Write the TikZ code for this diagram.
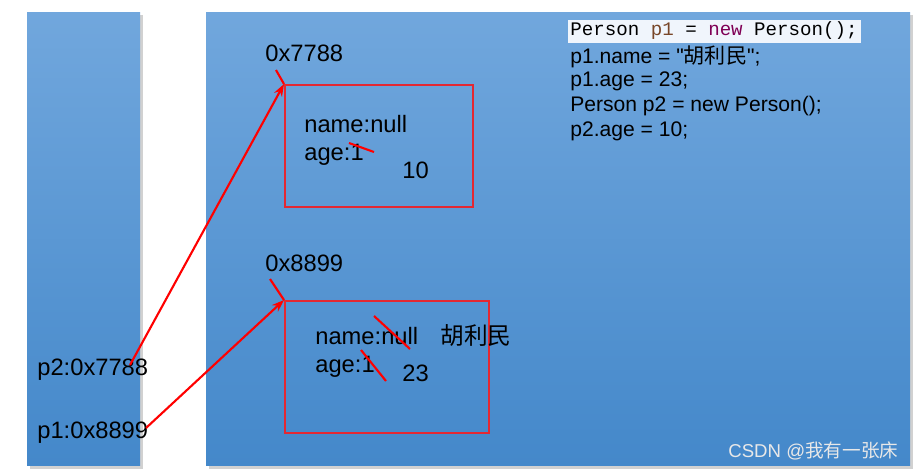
\documentclass[tikz,border=0pt]{standalone}
\usepackage{fontspec}
\setmainfont{Liberation Sans}[Ligatures=TeXOff]
\setmonofont{Liberation Mono}
\newfontfamily\cjk{Noto Sans CJK SC}
\usetikzlibrary{arrows.meta}
\definecolor{panetop}{RGB}{113,167,221}
\definecolor{panebot}{RGB}{68,136,202}
\definecolor{objred}{RGB}{228,40,50}
\definecolor{kwpurple}{RGB}{127,0,85}
\definecolor{varbrown}{RGB}{120,70,40}
\definecolor{hilite}{RGB}{240,245,252}
\tikzset{
  pane/.style={top color=panetop, bottom color=panebot, draw=none},
  paneshadow/.style={fill=black, opacity=0.18, draw=none},
  objbox/.style={draw=objred, line width=0.9pt, anchor=north west, inner sep=0pt},
  txt/.style={anchor=west, inner sep=0pt, font=\fontsize{13.5}{16}\selectfont},
  codeline/.style={anchor=west, inner sep=0pt, font=\fontsize{12}{14}\selectfont},
  ptr/.style={draw=red, line width=1.2pt, -{Stealth[length=7pt,width=5pt]}},
  strike/.style={draw=red, line width=1.2pt},
}
\begin{document}
\begin{tikzpicture}[x=0.02cm, y=-0.02cm]
    \useasboundingbox (0,0) rectangle (914,471);
    \fill[white] (0,0) rectangle (914,471);

    % stack and heap panes
    \path[paneshadow] (30,15) rectangle (143,469);
    \path[paneshadow] (209,15) rectangle (913,469);
    \path[pane] (27,12) rectangle (140,465);
    \path[pane] (206,12) rectangle (910,465);

    \node[objbox, minimum width=3.76cm, minimum height=2.44cm] (obj1) at (284,84) {};
    \node[objbox, minimum width=4.08cm, minimum height=2.64cm] (obj2) at (284,300) {};

    \node[txt] (adr1) at (265,53) {0x7788};
    \node[txt] (adr2) at (265,263) {0x8899};
    \coordinate (tick1) at (276,70);
    \coordinate (tick2) at (270,279);
    \draw[strike] (tick1) -- (obj1.north west);
    \draw[strike] (tick2) -- (obj2.north west);

    \node[txt] (name1) at (304,124) {name:null};
    \node[txt] (age1) at (304,155) {age:1};
    \node[txt] (val1) at (402,170) {10};
    \draw[strike] (349,143) -- (374,152);

    \node[txt] (name2) at (315,336) {name:null};
    \node[txt] (cn2) at (440,336) {\cjk 胡利民};
    \node[txt] (age2) at (315,367) {age:1};
    \node[txt] (val2) at (402,373) {23};
    \draw[strike] (374,316) -- (410,349);
    \draw[strike] (361,350) -- (386,381);

    % references on the stack
    \node[txt] (p2) at (37,370) {p2:0x7788};
    \node[txt] (p1) at (37,433) {p1:0x8899};
    \coordinate (src2) at (130,365);
    \coordinate (src1) at (146,428);
    \draw[ptr] (src2) -- (obj1.north west);
    \draw[ptr] (src1) -- (obj2.north west);

    % source code
    \fill[hilite] (568,20) rectangle (861,43);
    \node[codeline, font=\fontsize{10.9}{13}\ttfamily] (ln0) at (570,31)
        {Person \textcolor{varbrown}{p1} = \textcolor{kwpurple}{new} Person();};
    \foreach \y/\t [count=\i] in {57/{p1.name = "{\cjk 胡利民}";}, 81/{p1.age = 23;},
        106/{Person p2 = new Person();}, 131/{p2.age = 10;}} {
        \node[codeline] (ln\i) at (570,\y) {\t};
    }

    \node[anchor=west, inner sep=0pt, text=white!82!gray, font=\fontsize{10.6}{12}\selectfont] (wm) at (728,451)
        {CSDN @{\cjk 我有一张床}};
\end{tikzpicture}
\end{document}
